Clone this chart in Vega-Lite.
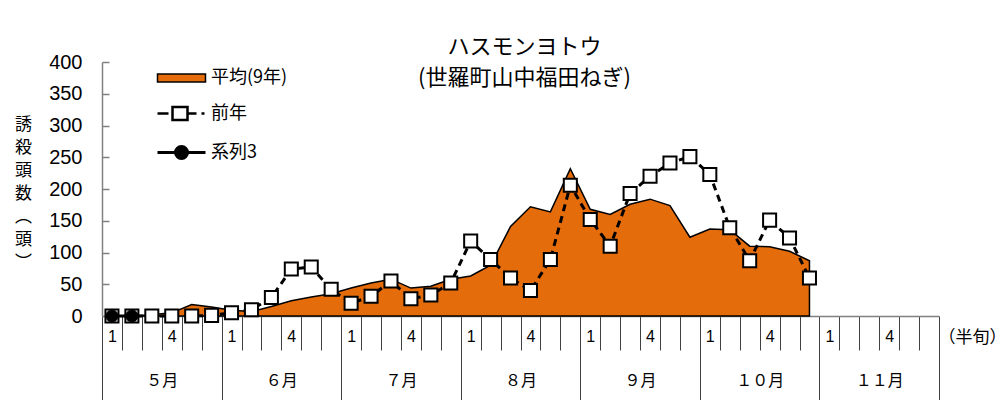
{
  "$schema": "https://vega.github.io/schema/vega-lite/v6.json",
  "width": 837,
  "height": 254,
  "autosize": {"type": "none"},
  "padding": {"left": 102, "top": 62, "right": 69, "bottom": 84},
  "background": "white",
  "config": {"view": {"stroke": null}, "font": "Noto Sans CJK JP"},
  "title": {
    "text": ["ハスモンヨトウ", "(世羅町山中福田ねぎ)"],
    "font": "Noto Sans CJK JP",
    "fontSize": 22,
    "fontWeight": "normal",
    "lineHeight": 31,
    "anchor": "middle",
    "baseline": "top",
    "offset": 0,
    "dx": 4,
    "dy": 38,
    "color": "black"
  },
  "data": {
    "values": [
      {"slot": 0, "series": "平均(9年)", "value": 0},
      {"slot": 1, "series": "平均(9年)", "value": 0},
      {"slot": 2, "series": "平均(9年)", "value": 2},
      {"slot": 3, "series": "平均(9年)", "value": 5},
      {"slot": 4, "series": "平均(9年)", "value": 18},
      {"slot": 5, "series": "平均(9年)", "value": 14},
      {"slot": 6, "series": "平均(9年)", "value": 9},
      {"slot": 7, "series": "平均(9年)", "value": 7},
      {"slot": 8, "series": "平均(9年)", "value": 15},
      {"slot": 9, "series": "平均(9年)", "value": 24},
      {"slot": 10, "series": "平均(9年)", "value": 30},
      {"slot": 11, "series": "平均(9年)", "value": 35},
      {"slot": 12, "series": "平均(9年)", "value": 44},
      {"slot": 13, "series": "平均(9年)", "value": 52},
      {"slot": 14, "series": "平均(9年)", "value": 58},
      {"slot": 15, "series": "平均(9年)", "value": 44},
      {"slot": 16, "series": "平均(9年)", "value": 47},
      {"slot": 17, "series": "平均(9年)", "value": 58},
      {"slot": 18, "series": "平均(9年)", "value": 63},
      {"slot": 19, "series": "平均(9年)", "value": 80},
      {"slot": 20, "series": "平均(9年)", "value": 141},
      {"slot": 21, "series": "平均(9年)", "value": 172},
      {"slot": 22, "series": "平均(9年)", "value": 164},
      {"slot": 23, "series": "平均(9年)", "value": 232},
      {"slot": 24, "series": "平均(9年)", "value": 168},
      {"slot": 25, "series": "平均(9年)", "value": 160},
      {"slot": 26, "series": "平均(9年)", "value": 176},
      {"slot": 27, "series": "平均(9年)", "value": 184},
      {"slot": 28, "series": "平均(9年)", "value": 174},
      {"slot": 29, "series": "平均(9年)", "value": 124},
      {"slot": 30, "series": "平均(9年)", "value": 137},
      {"slot": 31, "series": "平均(9年)", "value": 136},
      {"slot": 32, "series": "平均(9年)", "value": 110},
      {"slot": 33, "series": "平均(9年)", "value": 109},
      {"slot": 34, "series": "平均(9年)", "value": 102},
      {"slot": 35, "series": "平均(9年)", "value": 87},
      {"slot": 0, "series": "前年", "value": 0},
      {"slot": 1, "series": "前年", "value": 0},
      {"slot": 2, "series": "前年", "value": 0},
      {"slot": 3, "series": "前年", "value": 0},
      {"slot": 4, "series": "前年", "value": 0},
      {"slot": 5, "series": "前年", "value": 1},
      {"slot": 6, "series": "前年", "value": 5},
      {"slot": 7, "series": "前年", "value": 10},
      {"slot": 8, "series": "前年", "value": 29},
      {"slot": 9, "series": "前年", "value": 74},
      {"slot": 10, "series": "前年", "value": 77},
      {"slot": 11, "series": "前年", "value": 42},
      {"slot": 12, "series": "前年", "value": 20},
      {"slot": 13, "series": "前年", "value": 31},
      {"slot": 14, "series": "前年", "value": 55},
      {"slot": 15, "series": "前年", "value": 27},
      {"slot": 16, "series": "前年", "value": 33},
      {"slot": 17, "series": "前年", "value": 52},
      {"slot": 18, "series": "前年", "value": 118},
      {"slot": 19, "series": "前年", "value": 89},
      {"slot": 20, "series": "前年", "value": 60},
      {"slot": 21, "series": "前年", "value": 40},
      {"slot": 22, "series": "前年", "value": 89},
      {"slot": 23, "series": "前年", "value": 206},
      {"slot": 24, "series": "前年", "value": 152},
      {"slot": 25, "series": "前年", "value": 110},
      {"slot": 26, "series": "前年", "value": 193},
      {"slot": 27, "series": "前年", "value": 220},
      {"slot": 28, "series": "前年", "value": 241},
      {"slot": 29, "series": "前年", "value": 251},
      {"slot": 30, "series": "前年", "value": 223},
      {"slot": 31, "series": "前年", "value": 139},
      {"slot": 32, "series": "前年", "value": 87},
      {"slot": 33, "series": "前年", "value": 151},
      {"slot": 34, "series": "前年", "value": 123},
      {"slot": 35, "series": "前年", "value": 60},
      {"slot": 0, "series": "系列3", "value": 0},
      {"slot": 1, "series": "系列3", "value": 0}
    ]
  },
  "encoding": {
    "y": {
      "field": "value",
      "type": "quantitative",
      "scale": {"domain": [0, 400], "nice": false, "zero": true},
      "axis": {
        "values": [0, 50, 100, 150, 200, 250, 300, 350, 400],
        "title": ["誘", "殺", "頭", "数", "︵", "頭", "︶"],
        "titleAngle": 0,
        "titleFont": "Noto Sans CJK JP",
        "titleFontSize": 17,
        "titleFontWeight": "normal",
        "titleLineHeight": 23,
        "titleColor": "black",
        "titleX": -79,
        "titleY": 54,
        "titleAlign": "center",
        "titleBaseline": "top",
        "labelFont": "Liberation Sans",
        "labelFontSize": 20,
        "labelColor": "black",
        "labelPadding": 27,
        "tickSize": -7,
        "tickColor": "#808080",
        "tickWidth": 1.5,
        "domainColor": "#808080",
        "domainWidth": 1.5,
        "grid": false
      }
    }
  },
  "layer": [
    {
      "transform": [{"filter": "datum.series === '平均(9年)'"}],
      "mark": {"type": "area", "fill": "#E46C0A", "stroke": "black", "strokeWidth": 1.5, "fillOpacity": 1},
      "encoding": {
        "x": {
          "field": "slot",
          "type": "quantitative",
          "scale": {"domain": [-0.5, 41.5], "nice": false, "zero": false},
          "axis": {
            "orient": "bottom",
            "values": [-0.5, 0.5, 1.5, 2.5, 3.5, 4.5, 5.5, 6.5, 7.5, 8.5, 9.5, 10.5, 11.5, 12.5, 13.5, 14.5, 15.5, 16.5, 17.5, 18.5, 19.5, 20.5, 21.5, 22.5, 23.5, 24.5, 25.5, 26.5, 27.5, 28.5, 29.5, 30.5, 31.5, 32.5, 33.5, 34.5, 35.5, 36.5, 37.5, 38.5, 39.5, 40.5],
            "tickSize": 34,
            "tickColor": "#404040",
            "tickWidth": 1,
            "domain": false,
            "grid": false,
            "labelExpr": "((datum.value + 0.5) % 6 == 0) ? '1' : (((datum.value + 0.5) % 6 == 3) ? '4' : '')",
            "labelOffset": 9.96,
            "labelPadding": -14,
            "labelBaseline": "middle",
            "labelFont": "Liberation Sans",
            "labelFontSize": 16,
            "labelColor": "black",
            "labelOverlap": false,
            "labelBound": false,
            "labelFlush": false,
            "title": "（半旬）",
            "titleFont": "Noto Sans CJK JP",
            "titleFontSize": 17,
            "titleFontWeight": "normal",
            "titleColor": "black",
            "titleX": 870,
            "titleY": 21,
            "titleAlign": "center",
            "titleBaseline": "middle",
            "titleAngle": 0
          }
        }
      }
    },
    {
      "transform": [{"filter": "datum.series === '前年'"}],
      "mark": {"type": "line", "stroke": "black", "strokeWidth": 3, "strokeDash": [7, 5]},
      "encoding": {
        "x": {
          "field": "slot",
          "type": "quantitative",
          "scale": {"domain": [-0.5, 41.5], "nice": false, "zero": false},
          "axis": {
            "orient": "bottom",
            "values": [-0.5, 5.5, 11.5, 17.5, 23.5, 29.5, 35.5, 41.5],
            "tickSize": 84,
            "tickColor": "#404040",
            "tickWidth": 1,
            "domain": true,
            "domainColor": "#808080",
            "domainWidth": 1.5,
            "grid": false,
            "labelExpr": "['５月', '６月', '７月', '８月', '９月', '１０月', '１１月', ''][round((datum.value + 0.5) / 6)]",
            "labelOffset": 59.8,
            "labelPadding": -20,
            "labelBaseline": "middle",
            "labelFont": "Noto Sans CJK JP",
            "labelFontSize": 16,
            "labelColor": "black",
            "labelOverlap": false,
            "labelBound": false,
            "labelFlush": false,
            "title": null
          }
        }
      }
    },
    {
      "transform": [{"filter": "datum.series === '前年'"}],
      "mark": {"type": "point", "shape": "square", "filled": true, "fill": "white", "stroke": "black", "strokeWidth": 2, "size": 170, "opacity": 1},
      "encoding": {
        "x": {
          "field": "slot",
          "type": "quantitative",
          "scale": {"domain": [-0.5, 41.5], "nice": false, "zero": false},
          "axis": null
        }
      }
    },
    {
      "transform": [{"filter": "datum.series === '系列3'"}],
      "mark": {"type": "line", "stroke": "black", "strokeWidth": 3},
      "encoding": {
        "x": {
          "field": "slot",
          "type": "quantitative",
          "scale": {"domain": [-0.5, 41.5], "nice": false, "zero": false},
          "axis": null
        }
      }
    },
    {
      "transform": [{"filter": "datum.series === '系列3'"}],
      "mark": {"type": "point", "shape": "circle", "filled": true, "fill": "black", "stroke": "black", "strokeWidth": 1, "size": 150, "opacity": 1},
      "encoding": {
        "x": {
          "field": "slot",
          "type": "quantitative",
          "scale": {"domain": [-0.5, 41.5], "nice": false, "zero": false},
          "axis": null
        }
      }
    },
    {
      "transform": [{"filter": "datum.series === '系列3'"}],
      "mark": {"type": "point", "filled": true, "opacity": 0},
      "encoding": {
        "x": {
          "field": "slot",
          "type": "quantitative",
          "scale": {"domain": [-0.5, 41.5], "nice": false, "zero": false},
          "axis": null
        },
        "shape": {
          "field": "series",
          "type": "nominal",
          "scale": {
            "domain": ["平均(9年)", "前年", "系列3"],
            "range": [
              "M-2.4,-0.4H2.4V0.4H-2.4Z",
              "M-2.4,0H-1.3M-0.9,-0.65H0.6V0.65H-0.9ZM0.6,0H1.5M2,0H2.3",
              "M-2.4,0H2.4M-0.6,0A0.6,0.6 0 1,0 0.6,0A0.6,0.6 0 1,0 -0.6,0Z"
            ]
          },
          "legend": {
            "orient": "none",
            "legendX": 68,
            "legendY": 5,
            "title": null,
            "padding": 0,
            "direction": "vertical",
            "symbolSize": 400,
            "symbolOpacity": 1,
            "labelFont": "Noto Sans CJK JP",
            "labelFontSize": 18,
            "labelColor": "black",
            "labelOffset": 18,
            "rowPadding": 15
          }
        },
        "fill": {
          "field": "series",
          "type": "nominal",
          "scale": {"domain": ["平均(9年)", "前年", "系列3"], "range": ["#E46C0A", "#FFFFFF", "#000000"]},
          "legend": {
            "orient": "none",
            "legendX": 68,
            "legendY": 5,
            "title": null,
            "padding": 0,
            "direction": "vertical",
            "symbolSize": 400,
            "symbolOpacity": 1,
            "labelFont": "Noto Sans CJK JP",
            "labelFontSize": 18,
            "labelColor": "black",
            "labelOffset": 18,
            "rowPadding": 15
          }
        },
        "stroke": {
          "field": "series",
          "type": "nominal",
          "scale": {"domain": ["平均(9年)", "前年", "系列3"], "range": ["#000000", "#000000", "#000000"]},
          "legend": {
            "orient": "none",
            "legendX": 68,
            "legendY": 5,
            "title": null,
            "padding": 0,
            "direction": "vertical",
            "symbolSize": 400,
            "symbolOpacity": 1,
            "labelFont": "Noto Sans CJK JP",
            "labelFontSize": 18,
            "labelColor": "black",
            "labelOffset": 18,
            "rowPadding": 15
          }
        },
        "strokeWidth": {
          "field": "series",
          "type": "nominal",
          "scale": {"type": "ordinal", "domain": ["平均(9年)", "前年", "系列3"], "range": [1.5, 2.5, 3]},
          "legend": {
            "orient": "none",
            "legendX": 68,
            "legendY": 5,
            "title": null,
            "padding": 0,
            "direction": "vertical",
            "symbolSize": 400,
            "symbolOpacity": 1,
            "labelFont": "Noto Sans CJK JP",
            "labelFontSize": 18,
            "labelColor": "black",
            "labelOffset": 18,
            "rowPadding": 15
          }
        }
      }
    }
  ],
  "resolve": {"axis": {"x": "independent"}}
}
